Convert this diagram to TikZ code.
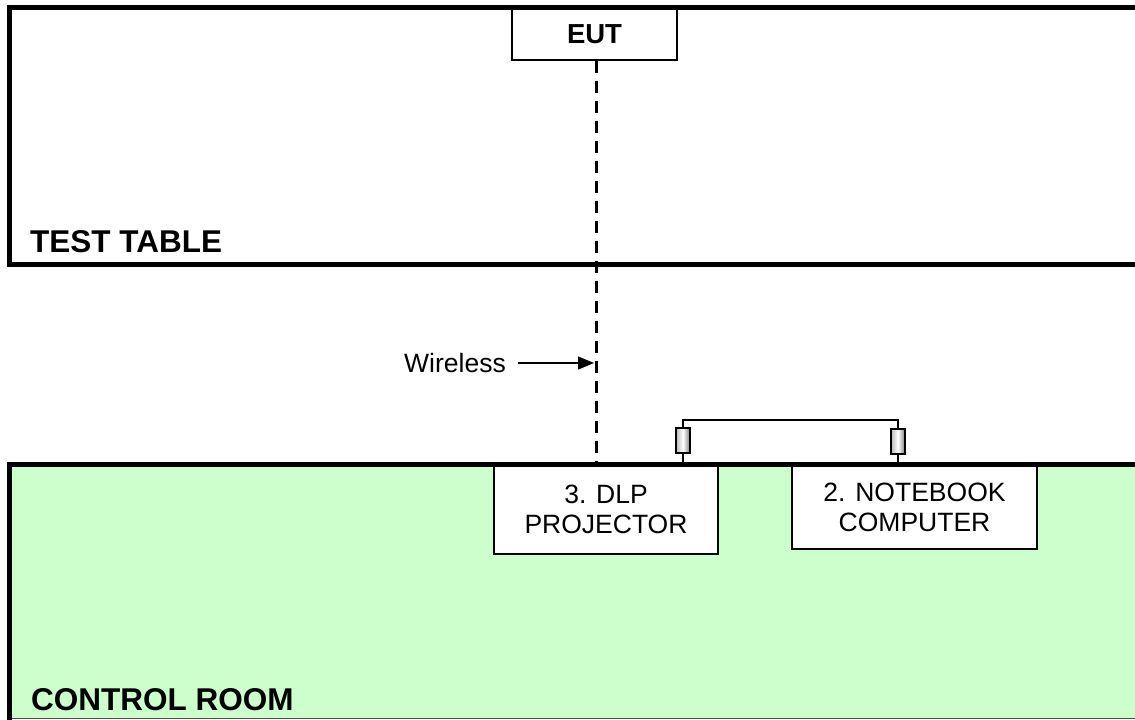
\documentclass[tikz,border=0pt]{standalone}
\usepackage{fontspec}
\setmainfont{Liberation Sans}
\usetikzlibrary{arrows.meta}
\definecolor{roomgreen}{HTML}{CCFFCC}
\tikzset{
  wall/.style={line width=5pt},
  devbox/.style={draw=black, fill=white, line width=1.2pt, align=center, inner sep=0pt,
    font=\fontsize{26.5}{30}\selectfont},
  eutbox/.style={draw=black, fill=white, line width=1.2pt, inner sep=0pt,
    font=\fontsize{27.5}{30}\selectfont\bfseries},
  roomlabel/.style={inner sep=0pt, anchor=base west, font=\fontsize{31.5}{36}\selectfont\bfseries},
  lbl/.style={inner sep=0pt, font=\fontsize{26.5}{30}\selectfont},
  plug/.style={draw=black, line width=1.4pt, minimum width=14pt, minimum height=25pt,
    inner sep=0pt, left color=gray!55, right color=gray!95!black, middle color=white},
  cable/.style={line width=1.3pt},
  wdash/.style={line width=3pt, dash pattern=on 12pt off 8pt},
  arr/.style={line width=1.3pt, -{Triangle[length=16pt,width=13pt]}}
}
\begin{document}
\begin{tikzpicture}[x=1pt,y=-1pt]
\useasboundingbox (0,0) rectangle (1135,720);
% control room area
\fill[roomgreen] (9,464) rectangle (1140,718);
\draw[line width=1pt, black!70] (9,718) -- (1140,718);
% devices
\node[eutbox, minimum width=165pt, minimum height=52pt] (eut) at (594.5,34) {EUT};
\node[devbox, minimum width=224pt, minimum height=90pt] (dlp) at (606,509) {3. DLP\\PROJECTOR};
\node[devbox, minimum width=245pt, minimum height=83pt] (nb) at (914.5,507.5) {2. NOTEBOOK\\COMPUTER};
% walls
\draw[wall] (1140,7.5) -- (9.5,7.5) -- (9.5,264) -- (1140,264);
\draw[wall] (1140,464) -- (9,464) -- (9,720);
% labels
\node[roomlabel] (tt) at (30,252) {TEST TABLE};
\node[roomlabel] (cr) at (31,710) {CONTROL ROOM};
% wireless link
\coordinate (wend) at (596,462);
\draw[wdash] (wend |- eut.south) -- (wend);
\node[lbl] (wl) at (455,363) {Wireless};
\coordinate (wtip) at (594,363);
\draw[arr] ([xshift=12pt]wl.east) -- (wtip);
% cable between projector and notebook
\node[plug] (p1) at (683,440.5) {};
\node[plug] (p2) at (898,441.5) {};
\coordinate (c1) at (683,420);
\coordinate (c2) at (898,420);
\draw[cable] (p1.north) -- (c1) -- (c2) -- (p2.north);
\draw[cable] (p1.south) -- (p1.south |- 0,462);
\draw[cable] (p2.south) -- (p2.south |- 0,462);
\end{tikzpicture}
\end{document}
